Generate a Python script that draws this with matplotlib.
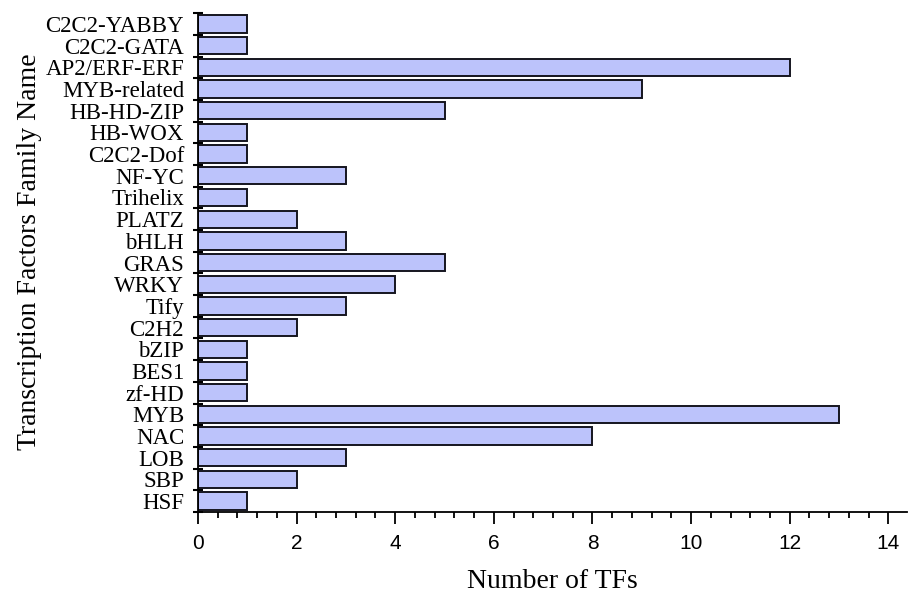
import matplotlib
matplotlib.use("Agg")
import matplotlib.pyplot as plt
from matplotlib.ticker import MultipleLocator, FixedLocator, NullFormatter
import numpy as np

families = ["C2C2-YABBY", "C2C2-GATA", "AP2/ERF-ERF", "MYB-related", "HB-HD-ZIP",
            "HB-WOX", "C2C2-Dof", "NF-YC", "Trihelix", "PLATZ", "bHLH", "GRAS",
            "WRKY", "Tify", "C2H2", "bZIP", "BES1", "zf-HD", "MYB", "NAC", "LOB",
            "SBP", "HSF"]
counts = [1, 1, 12, 9, 5, 1, 1, 3, 1, 2, 3, 5, 4, 3, 2, 1, 1, 1, 13, 8, 3, 2, 1]

fig = plt.figure(figsize=(9.08, 5.97), dpi=100)
ax = fig.add_axes([0.218, 0.1424, 0.781, 0.8356])

n = len(families)
ypos = np.arange(n)[::-1]  # top first
ax.barh(ypos, counts, height=0.8, color="#bcc3fb", edgecolor="#15151f", linewidth=1.4)

ax.set_ylim(-0.5, n - 0.5)
ax.set_xlim(0, 14.38)

ax.spines["top"].set_visible(False)
ax.spines["right"].set_visible(False)
ax.spines["left"].set_linewidth(1.3)
ax.spines["bottom"].set_linewidth(1.3)

# y: labels at centers, tick marks at boundaries
ax.set_yticks(ypos)
ax.set_yticklabels(families, fontfamily="Liberation Serif", fontsize=16.5)
ax.tick_params(axis="y", which="major", length=0, pad=10)
ax.yaxis.set_minor_locator(FixedLocator(np.arange(-0.5, n, 1.0)))
ax.yaxis.set_minor_formatter(NullFormatter())
ax.tick_params(axis="y", which="minor", direction="inout", length=7.2, width=1.5)

ax.xaxis.set_major_locator(MultipleLocator(2))
ax.xaxis.set_minor_locator(MultipleLocator(0.4))
ax.tick_params(axis="x", which="major", direction="out", length=8.6, width=1.3, labelsize=15, pad=7)
ax.tick_params(axis="x", which="minor", direction="out", length=4.3, width=1.3)
for lab in ax.get_xticklabels():
    lab.set_fontfamily("Liberation Sans")

ax.set_xlabel("Number of TFs", fontfamily="Liberation Serif", fontsize=20, labelpad=12)
ax.set_ylabel("Transcription Factors Family Name", fontfamily="Liberation Serif", fontsize=20)
ax.yaxis.set_label_coords(-0.22, 0.521)

fig.savefig("out.png", dpi=100)
